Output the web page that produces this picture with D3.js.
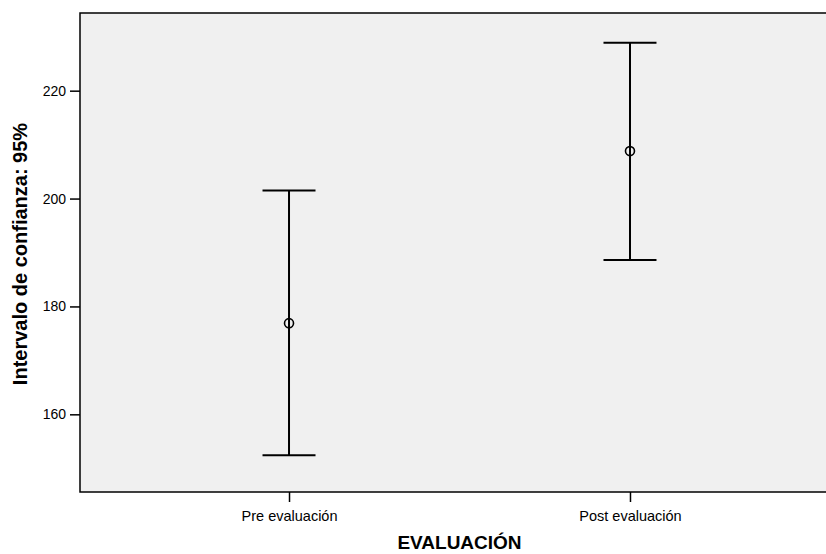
<!DOCTYPE html>
<html>
<head>
<meta charset="utf-8">
<script src="https://cdn.jsdelivr.net/npm/d3@7"></script>
<style>
  html, body { margin: 0; padding: 0; background: #fff; }
  svg { display: block; font-family: "Liberation Sans", Arial, sans-serif; }
</style>
</head>
<body>
<svg id="chart" width="826" height="554"></svg>
<script>
// Data
const categories = ["Pre evaluación", "Post evaluación"];
const means = [176.9, 208.8];
const lower = [152.4, 188.6];
const upper = [201.5, 228.9];
const yTicks = [160, 180, 200, 220];

(function () {
const svg = d3.select("#chart");
const pL = 80, pR = 839, pT = 13, pB = 492;

const x = d3.scalePoint().domain(categories).range([pL, pR]).padding(0.613);
const y = d3.scaleLinear().domain([145.6, 234.4]).range([pB, pT]);

// Plot background
svg.append("rect")
  .attr("x", pL).attr("y", pT)
  .attr("width", pR - pL).attr("height", pB - pT)
  .attr("fill", "#f0f0f0").attr("stroke", "#000").attr("stroke-width", 1.5);

// Y axis
const yAxis = svg.append("g").attr("transform", `translate(${pL},0)`)
  .call(d3.axisLeft(y).tickValues(yTicks).tickSize(10).tickPadding(4).tickFormat(d3.format("d")));
yAxis.select(".domain").remove();
yAxis.selectAll(".tick line").attr("stroke", "#000").attr("stroke-width", 1.5);
yAxis.selectAll(".tick text").attr("font-size", 14).attr("fill", "#000")
  .attr("font-family", "'Liberation Sans', Arial, sans-serif");

// X axis
const xAxis = svg.append("g").attr("transform", `translate(0,${pB})`)
  .call(d3.axisBottom(x).tickSize(10).tickPadding(9));
xAxis.select(".domain").remove();
xAxis.selectAll(".tick line").attr("stroke", "#000").attr("stroke-width", 1.5);
xAxis.selectAll(".tick text").attr("font-size", 14.5).attr("fill", "#000")
  .attr("font-family", "'Liberation Sans', Arial, sans-serif");

// Error bars
const g = svg.append("g");
const capHalf = 26.5;
categories.forEach((c, i) => {
  const cx = x(c);
  g.append("line").attr("x1", cx).attr("x2", cx).attr("y1", y(lower[i])).attr("y2", y(upper[i]))
    .attr("stroke", "#000").attr("stroke-width", 2);
  g.append("line").attr("x1", cx - capHalf).attr("x2", cx + capHalf).attr("y1", y(upper[i])).attr("y2", y(upper[i]))
    .attr("stroke", "#000").attr("stroke-width", 2);
  g.append("line").attr("x1", cx - capHalf).attr("x2", cx + capHalf).attr("y1", y(lower[i])).attr("y2", y(lower[i]))
    .attr("stroke", "#000").attr("stroke-width", 2);
  g.append("circle").attr("cx", cx).attr("cy", y(means[i])).attr("r", 4.5)
    .attr("fill", "none").attr("stroke", "#000").attr("stroke-width", 1.6);
});

// Axis titles
svg.append("text")
  .attr("x", (pL + pR) / 2).attr("y", 549)
  .attr("text-anchor", "middle").attr("font-weight", "bold").attr("font-size", 19)
  .text("EVALUACIÓN");

svg.append("text")
  .attr("transform", `translate(26.5,254) rotate(-90)`)
  .attr("text-anchor", "middle").attr("font-weight", "bold").attr("font-size", 20)
  .text("Intervalo de confianza: 95%");
})();
</script>
</body>
</html>
